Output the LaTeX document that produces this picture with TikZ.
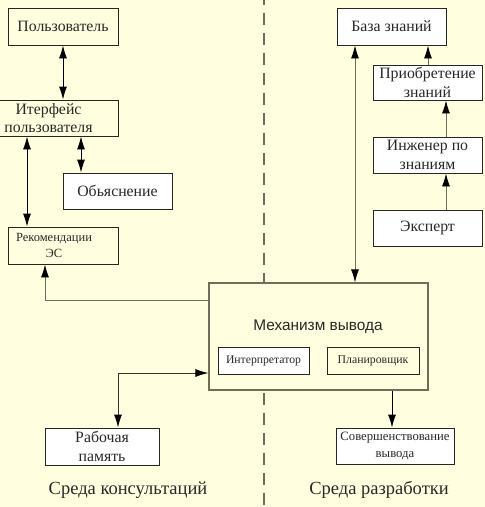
\documentclass[tikz,border=0pt]{standalone}
\usepackage{fontspec}
\setmainfont{Liberation Serif}
\newfontfamily\timesf{Liberation Serif}
\newfontfamily\arialf{Liberation Sans}
\usetikzlibrary{arrows.meta}
\definecolor{bgc}{RGB}{255,255,224}
\definecolor{linec}{RGB}{110,110,90}
\definecolor{txtc}{RGB}{40,40,40}
\tikzset{
  box/.style={draw=black!85, line width=0.9pt, rectangle, inner sep=0pt, align=center, text=txtc, font=\timesf\fontsize{15.8}{19}\selectfont},
  wbox/.style={box, fill=white},
  ybox/.style={box, fill=bgc},
  con/.style={line width=0.9pt, draw=linec},
  >={Latex[length=13pt,width=8pt,color=black]},
}
\begin{document}
\begin{tikzpicture}[x=1pt,y=-1pt]
\fill[bgc] (0,0) rectangle (485,507);
\useasboundingbox (0,0) rectangle (485,507);
\coordinate (dtop) at (264,0);
\coordinate (dbot) at (264,507);
\draw[draw=linec, line width=1.2pt, dash pattern=on 12pt off 8pt, dash phase=7pt] (dtop) -- (dbot);

\node[ybox, minimum width=110, minimum height=37] (user) at (63,26.5) {Пользователь};
\node[ybox, minimum width=119, minimum height=36, label={[text=txtc, font=\timesf\fontsize{15.8}{18}\selectfont, align=center, xshift=-10pt]center:Итерфейс\\пользователя}] (iface) at (58.5,118) {};
\node[wbox, minimum width=109, minimum height=36] (expl) at (117.5,191) {Обьяснение};
\node[ybox, minimum width=110, minimum height=37, label={[text=txtc, font=\timesf\fontsize{12.5}{16}\selectfont, align=center, xshift=-9pt]center:Рекомендации\\ЭС}] (rec) at (63,245.5) {};
\node[wbox, minimum width=109, minimum height=37] (kb) at (391.5,26.5) {База знаний};
\node[wbox, minimum width=109, minimum height=35] (acq) at (427.5,82.5) {Приобретение\\знаний};
\node[wbox, minimum width=109, minimum height=36] (eng) at (427.5,155) {Инженер по\\знаниям};
\node[wbox, minimum width=109, minimum height=36] (exp) at (427.5,228) {Эксперт};
\node[ybox, draw=linec, line width=1.2pt, minimum width=219, minimum height=107] (mech) at (318.5,336.5) {};
\node[text=txtc, font=\arialf\fontsize{15.4}{17}\selectfont] (mtitle) at (318,327) {Механизм вывода};
\node[wbox, minimum width=91, minimum height=27, font=\timesf\fontsize{11.7}{14}\selectfont] (interp) at (263.5,360.5) {Интерпретатор};
\node[ybox, minimum width=92, minimum height=27, font=\timesf\fontsize{11.8}{14}\selectfont] (plan) at (373,360.5) {Планировщик};
\node[wbox, minimum width=114, minimum height=37] (wm) at (102,446.5) {Рабочая\\память};
\node[wbox, minimum width=118, minimum height=36, font=\timesf\fontsize{12.7}{17}\selectfont] (impr) at (395,446) {Совершенствование\\вывода};
\node[text=txtc, font=\timesf\fontsize{18.5}{20}\selectfont] (lcons) at (128,490) {Среда консультаций};
\node[text=txtc, font=\timesf\fontsize{18.5}{20}\selectfont] (ldev) at (379,490) {Среда разработки};

% connectors
\draw[con, draw=black, <->] (user.south -| 63,0) -- (iface.north -| 63,0);
\draw[con, draw=black, <->] (iface.south -| 27,0) -- (rec.north -| 27,0);
\draw[con, draw=black, <->] (iface.south -| 81,0) -- (expl.north -| 81,0);
\draw[con, ->] (mech.west |- 0,300) -| (rec.south -| 45,0);
\draw[con, <->] (mech.north -| 355,0) -- (kb.south -| 355,0);
\draw[con, ->] (acq.north -| 428,0) -- (kb.south -| 428,0);
\draw[con, ->] (eng.north -| 446,0) -- (acq.south -| 446,0);
\draw[con, ->] (exp.north -| 446,0) -- (eng.south -| 446,0);
\draw[con, draw=black!80, <->] (wm.north -| 118,0) |- (mech.west |- 0,373);
\draw[con, draw=black, ->] (mech.south -| 392,0) -- (impr.north -| 392,0);
\end{tikzpicture}
\end{document}
